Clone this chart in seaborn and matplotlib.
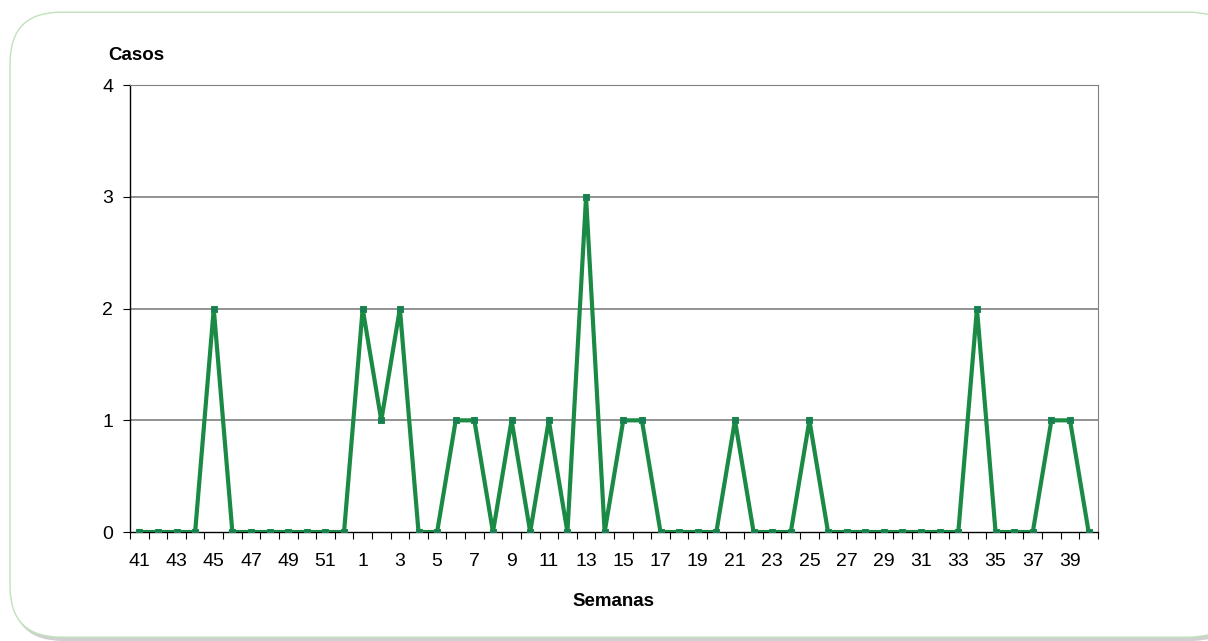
import numpy as np
import pandas as pd
import matplotlib
matplotlib.use("Agg")
import matplotlib.pyplot as plt
from matplotlib.patches import FancyBboxPatch
import seaborn as sns

# semanas epidemiologicas (41-52 de un año, 1-40 del siguiente)
semanas = [str(s) for s in list(range(41, 53)) + list(range(1, 41))]
casos = [0, 0, 0, 0, 2, 0, 0, 0, 0, 0, 0, 0,
         2, 1, 2, 0, 0, 1, 1, 0, 1, 0, 1, 0, 3, 0, 1, 1, 0, 0,
         0, 0, 1, 0, 0, 0, 1, 0, 0, 0, 0, 0, 0, 0, 0, 2, 0, 0,
         0, 1, 1, 0]
y_ticks = [0, 1, 2, 3, 4]

df = pd.DataFrame({"semana": semanas, "casos": casos})
df["pos"] = np.arange(len(df))

sns.set_style("white")
plt.rcParams["font.family"] = ["Liberation Sans", "DejaVu Sans"]
plt.rcParams["text.color"] = "black"
plt.rcParams["axes.labelcolor"] = "black"
plt.rcParams["xtick.color"] = "black"
plt.rcParams["ytick.color"] = "black"

fig = plt.figure(figsize=(12.08, 6.41), dpi=100)

# marco redondeado con sombra suave, cortado a la derecha
aspect = 1208 / 641
shadow = FancyBboxPatch((0.010, 0.0), 1.018, 0.975, boxstyle="round,pad=0,rounding_size=0.042",
                        transform=fig.transFigure, facecolor="#d0d0d0", edgecolor="none",
                        mutation_aspect=aspect, zorder=0)
frame = FancyBboxPatch((0.0083, 0.006), 1.018, 0.975, boxstyle="round,pad=0,rounding_size=0.042",
                       transform=fig.transFigure, facecolor="white", edgecolor="#bfe3b9",
                       linewidth=1.0, mutation_aspect=aspect, zorder=1)
fig.patches.extend([shadow, frame])

ax = fig.add_axes([0.1076, 0.170, 0.8013, 0.697])
ax.set_zorder(2)
ax.patch.set_alpha(0)

sns.lineplot(data=df, x="pos", y="casos", ax=ax, color="#1b8a45", linewidth=3.0,
             marker="s", markersize=4, markerfacecolor="#1a7d5a", markeredgecolor="#1b8a45",
             zorder=3)

ax.set_xlim(-0.5, len(df) - 0.5)
ax.set_ylim(0, 4)
ax.set_yticks(y_ticks)
ax.set_yticklabels([str(t) for t in y_ticks], fontsize=14)
ax.set_xticks(df["pos"][::2])
ax.set_xticklabels(df["semana"][::2], fontsize=14)
ax.set_xticks(np.arange(-0.5, len(df)), minor=True)
ax.tick_params(axis="x", which="major", bottom=True, length=0, pad=15)
ax.tick_params(axis="x", which="minor", bottom=True, length=5, width=0.8, color="black", direction="out")
ax.tick_params(axis="y", which="major", left=True, length=5, width=0.8, color="black",
               direction="out", pad=7)

for t in y_ticks[1:]:
    ax.axhline(t, color="#808080", linewidth=1.2, zorder=1)

for side in ["top", "right", "left", "bottom"]:
    ax.spines[side].set_visible(True)
ax.spines["left"].set_color("black")
ax.spines["bottom"].set_color("black")
ax.spines["right"].set_color("#808080")
ax.spines["top"].set_color("#808080")
ax.spines["left"].set_linewidth(1.0)
ax.spines["bottom"].set_linewidth(1.0)

ax.set_xlabel("Semanas", fontsize=13.5, fontweight="bold", labelpad=17)
ax.set_ylabel("")
fig.text(0.0895, 0.913, "Casos", fontsize=13.5, fontweight="bold", ha="left", va="center")

fig.savefig("out.png", dpi=100)
